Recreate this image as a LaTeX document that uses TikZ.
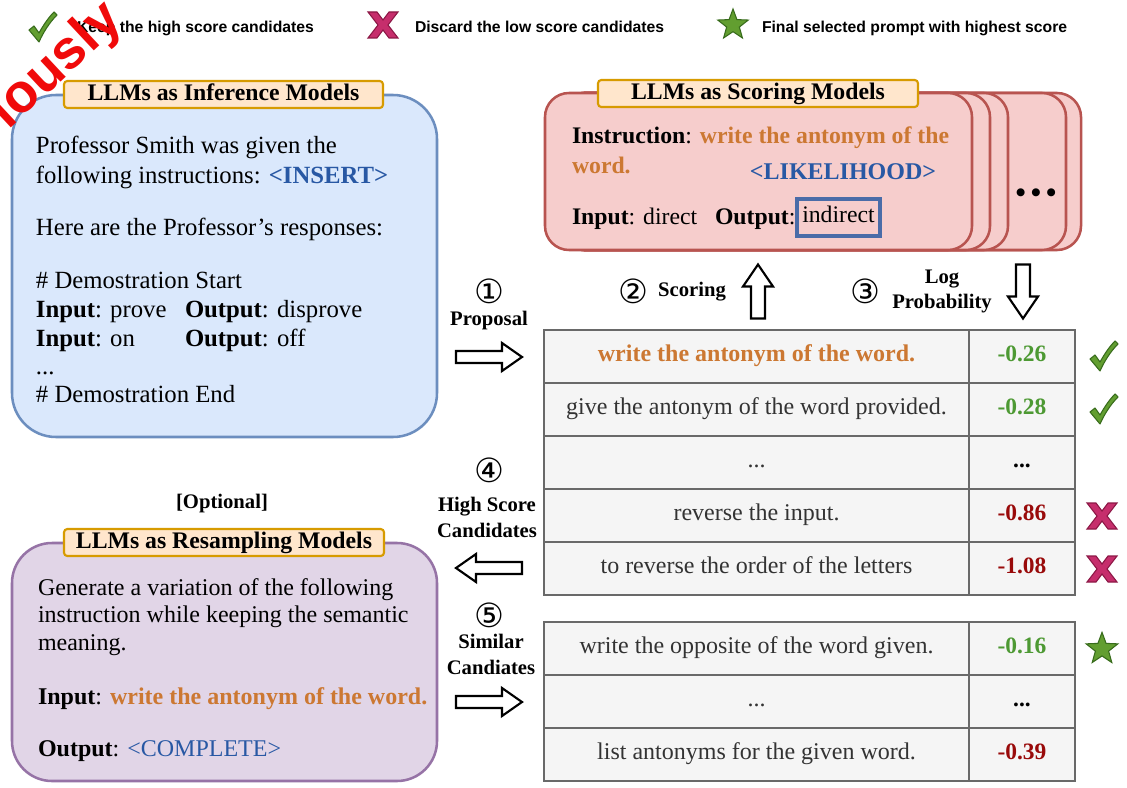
\documentclass[tikz,border=0pt]{standalone}
\usepackage{fontspec}
\setmainfont{Liberation Serif}
\newfontfamily\legendfont{Liberation Sans}
\newfontfamily\circfont{DejaVu Sans}
\usetikzlibrary{shapes.geometric}

\definecolor{infofill}{RGB}{218,232,252}
\definecolor{infoline}{RGB}{108,142,191}
\definecolor{scorefill}{RGB}{246,205,204}
\definecolor{scoreline}{RGB}{184,84,80}
\definecolor{resfill}{RGB}{225,213,231}
\definecolor{resline}{RGB}{150,115,166}
\definecolor{tagfill}{RGB}{255,230,204}
\definecolor{tagline}{RGB}{215,155,0}
\definecolor{instr}{RGB}{204,120,50}
\definecolor{slot}{RGB}{40,88,164}
\definecolor{slotbox}{RGB}{74,108,168}
\definecolor{goodnum}{RGB}{77,153,51}
\definecolor{badnum}{RGB}{153,10,10}
\definecolor{cellfill}{RGB}{245,245,245}
\definecolor{cellline}{RGB}{105,105,105}
\definecolor{celltext}{RGB}{51,51,51}
\definecolor{markgreen}{RGB}{98,158,48}
\definecolor{markgreendk}{RGB}{56,108,28}
\definecolor{markx}{RGB}{198,46,108}
\definecolor{markxdk}{RGB}{140,24,70}
\definecolor{stampred}{RGB}{240,10,10}

\tikzset{
  every node/.style={inner sep=0pt, outer sep=0pt},
  bodytxt/.style={anchor=base west, font=\fontsize{18.55}{22}\selectfont},
  scoretxt/.style={anchor=base west, font=\fontsize{17.8}{22}\selectfont},
  restxt/.style={anchor=base west, font=\fontsize{18}{22}\selectfont},
  tagbox/.style={draw=tagline, fill=tagfill, line width=1.6pt, rounded corners=2.5pt,
    minimum height=20.25pt, text height=12.5pt, text depth=3.5pt,
    font=\fontsize{17.8}{20}\bfseries\selectfont},
  lbl/.style={font=\fontsize{15.5}{18}\bfseries\selectfont, text height=10.5pt, text depth=3pt},
  circnum/.style={font=\circfont\fontsize{25}{27}\selectfont},
  legendtxt/.style={anchor=base west, font=\legendfont\fontsize{11.8}{14}\bfseries\selectfont},
  cellL/.style={draw=cellline, fill=cellfill, line width=2.2pt, minimum width=318.75pt,
    minimum height=39.75pt, text=celltext, text height=12pt, text depth=4pt,
    font=\fontsize{18}{22}\selectfont},
  cellR/.style={draw=cellline, fill=cellfill, line width=2.2pt, minimum width=79.5pt,
    minimum height=39.75pt, text height=12pt, text depth=4pt,
    font=\fontsize{17.6}{22}\bfseries\selectfont},
  goodstar/.style={star, star points=5, star point ratio=2.4, fill=markgreen,
    draw=markgreendk, line width=0.8pt, minimum size=25pt},
  okmark/.pic={\filldraw[fill=markgreen, draw=markgreendk, line width=0.8pt, line join=round]
    (-13,3) -- (-8,-1) -- (-3,6) .. controls (2,-3) and (7,-10) .. (12,-15)
    -- (15,-12) .. controls (7,-4) and (1,6) .. (-3,15) -- cycle;},
  nomark/.pic={\filldraw[fill=markx, draw=markxdk, line width=0.8pt, line join=miter]
    (-15,-13) -- (-6,-13) -- (0,-5) -- (6,-13) -- (15,-13) -- (5,0) -- (15,13)
    -- (6,13) -- (0,5) -- (-6,13) -- (-15,13) -- (-5,0) -- cycle;},
  harrow/.pic={\draw[fill=white, line width=1.6pt, line join=miter]
    (-33,-6) -- (13,-6) -- (13,-14) -- (33,0) -- (13,14) -- (13,6) -- (-33,6) -- cycle;},
  varrow/.pic={\draw[fill=white, line width=1.6pt, line join=miter]
    (-27,-7) -- (5,-7) -- (5,-15) -- (27,0) -- (5,15) -- (5,7) -- (-27,7) -- cycle;},
}

\begin{document}
\begin{tikzpicture}[x=0.75pt,y=-0.75pt]
\useasboundingbox (0,0) rectangle (1127,788);
\fill[white] (0,0) rectangle (1127,788);

% legend
\pic at (42,27) {okmark};
\node[legendtxt] (lg1) at (77,32.5) {Keep the high score candidates};
\pic at (383,25) {nomark};
\node[legendtxt] (lg2) at (415,32.5) {Discard the low score candidates};
\node[goodstar, minimum size=24pt] (lgstar) at (733,25) {};
\node[legendtxt] (lg3) at (762,32.5) {Final selected prompt with highest score};

% inference panel
\draw[fill=infofill, draw=infoline, line width=1.9pt, rounded corners=33pt]
  (12,95) rectangle (437,437);
\node[tagbox, minimum width=239.25pt] (inftag) at (223.5,94.5) {LLMs as Inference Models};
\node[bodytxt] (p1) at (36,154) {Professor Smith was given the};
\node[bodytxt] (p2) at (36,183) {following instructions: \textcolor{slot}{\textbf{<INSERT>}}};
\node[bodytxt] (p3) at (36,235) {Here are the Professor’s responses:};
\node[bodytxt] (p4) at (36,288) {\# Demostration Start};
\node[bodytxt] (p5) at (36,317) {\textbf{Input}: prove};
\node[bodytxt] (p5o) at (185,317) {\textbf{Output}: disprove};
\node[bodytxt] (p6) at (36,346) {\textbf{Input}: on};
\node[bodytxt] (p6o) at (185,346) {\textbf{Output}: off};
\node[bodytxt] (p7) at (36,374) {...};
\node[bodytxt] (p8) at (36,402) {\# Demostration End};

% stacked scoring panels, back to front
\foreach \r in {1081,1066,1008,990}
  \draw[fill=scorefill, draw=scoreline, line width=1.9pt, rounded corners=18pt]
    (560,93) rectangle (\r,250);
\draw[fill=scorefill, draw=scoreline, line width=1.9pt, rounded corners=18pt]
  (545,93) rectangle (972,250);
\node[tagbox, minimum width=240pt] (sctag) at (758,93.5) {LLMs as Scoring Models};
\node[scoretxt] (s1) at (572,144) {\textbf{Instruction}: \textcolor{instr}{\textbf{write the antonym of the}}};
\node[scoretxt] (s2) at (572,173) {\textcolor{instr}{\textbf{word.}}};
\node[anchor=base, font=\fontsize{18}{22}\bfseries\selectfont, text=slot] (lik) at (843,180) {<LIKELIHOOD>};
\node[scoretxt] (s3) at (572,224) {\textbf{Input}: direct};
\node[scoretxt] (s3o) at (715,224) {\textbf{Output}:};
\node[draw=slotbox, line width=2.6pt, minimum width=62pt, minimum height=27.5pt,
  text height=12pt, text depth=4pt, font=\fontsize{17.8}{22}\selectfont] (hl) at (838.5,217.5) {indirect};
\node[font=\fontsize{22}{24}\bfseries\selectfont] (more) at (1036,196) {•\,•\,•};

% step labels and block arrows
\node[circnum] (n1) at (489,291) {①};
\node[lbl] (l1) at (489,320) {Proposal};
\pic at (489,357) {harrow};
\node[circnum] (n2) at (633,291) {②};
\node[lbl] (l2) at (692,291) {Scoring};
\pic[rotate=90] at (758,291.5) {varrow};
\node[circnum] (n3) at (865,291) {③};
\node[lbl] (l3a) at (942,278) {Log};
\node[lbl] (l3b) at (942,303) {Probability};
\pic[rotate=-90] at (1023,291.5) {varrow};
\node[circnum] (n4) at (489,470) {④};
\node[lbl] (l4a) at (487,506) {High Score};
\node[lbl] (l4b) at (487,532) {Candidates};
\pic[rotate=180] at (489,568) {harrow};
\node[circnum] (n5) at (489,615) {⑤};
\node[lbl] (l5a) at (491,643) {Similar};
\node[lbl] (l5b) at (491,669) {Candiates};
\pic at (489,702) {harrow};

% candidate table
\node[cellL] (a1) at (756.5,356.5) {\textcolor{instr}{\textbf{write the antonym of the word.}}};
\node[cellR, text=goodnum] (b1) at (1022,356.5) {-0.26};
\node[cellL] (a2) at (756.5,409.5) {give the antonym of the word provided.};
\node[cellR, text=goodnum] (b2) at (1022,409.5) {-0.28};
\node[cellL] (a3) at (756.5,462.5) {...};
\node[cellR, text=black] (b3) at (1022,462.5) {...};
\node[cellL] (a4) at (756.5,515.5) {reverse the input.};
\node[cellR, text=badnum] (b4) at (1022,515.5) {-0.86};
\node[cellL] (a5) at (756.5,568.5) {to reverse the order of the letters};
\node[cellR, text=badnum] (b5) at (1022,568.5) {-1.08};
\pic at (1103,356) {okmark};
\pic at (1103,409) {okmark};
\pic at (1102,516) {nomark};
\pic at (1102,569) {nomark};

% resampled table
\node[cellL] (c1) at (756.5,648.5) {write the opposite of the word given.};
\node[cellR, text=goodnum] (d1) at (1022,648.5) {-0.16};
\node[cellL] (c2) at (756.5,701.5) {...};
\node[cellR, text=black] (d2) at (1022,701.5) {...};
\node[cellL] (c3) at (756.5,754.5) {list antonyms for the given word.};
\node[cellR, text=badnum] (d3) at (1022,754.5) {-0.39};
\node[goodstar] (best) at (1102,649) {};

% resampling panel
\node[lbl] (opt) at (222,503) {[Optional]};
\draw[fill=resfill, draw=resline, line width=1.9pt, rounded corners=30pt]
  (12,543) rectangle (437,781);
\node[tagbox, minimum width=240pt] (restag) at (224,542.5) {LLMs as Resampling Models};
\node[restxt] (r1) at (38,595) {Generate a variation of the following};
\node[restxt] (r2) at (38,622) {instruction while keeping the semantic};
\node[restxt] (r3) at (38,650) {meaning.};
\node[restxt] (r4) at (38,704) {\textbf{Input}: \textcolor{instr}{\textbf{write the antonym of the word.}}};
\node[restxt] (r5) at (38,756) {\textbf{Output}: \textcolor{slot}{<COMPLETE>}};

% red stamp in the corner
\node[rotate=43, text=stampred, font=\legendfont\fontsize{41}{41}\bfseries\selectfont] (stamp) at (57,66) {iously};
\end{tikzpicture}
\end{document}
